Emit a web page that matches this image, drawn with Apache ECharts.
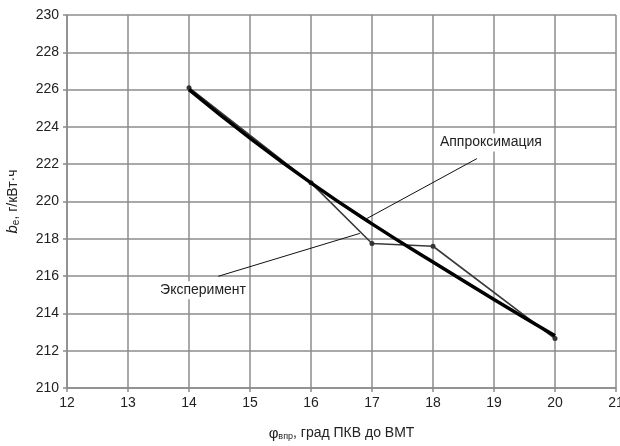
<!DOCTYPE html>
<html>
<head>
<meta charset="utf-8">
<script src="https://cdn.jsdelivr.net/npm/echarts@6/dist/echarts.min.js"></script>
<style>
  html, body { margin: 0; padding: 0; background: #fff; }
  #chart { width: 620px; height: 446px; }
</style>
</head>
<body>
<div id="chart"></div>
<script>
// угол опережения впрыска, град ПКВ
const xExp = [14, 16, 17, 18, 20];
const yExp = [226.1, 221.0, 217.75, 217.6, 212.65];
const xApprox = [14, 15, 16, 17, 18, 19, 20];
const yApprox = [226.0, 223.4, 221.0, 218.8, 216.75, 214.75, 212.8];
// подписи и выноски (координаты в единицах осей)
const labelApprox = 'Аппроксимация';
const labelExp = 'Эксперимент';
const ptrApprox = [[18.72, 222.3], [16.89, 219.04]];
const ptrExp = [[14.48, 215.99], [16.80, 218.29]];
const posApprox = [18.95, 223.16];
const posExp = [14.23, 215.24];

const font = '"Liberation Sans", Arial, sans-serif';
const textColor = '#222';
const gridColor = '#8c8c8c';

let chart = echarts.init(document.getElementById('chart'));

let option = {
  animation: false,
  backgroundColor: '#fff',
  grid: { left: 67, right: 4, top: 15, bottom: 58, outerBoundsMode: 'none', containLabel: false },
  xAxis: {
    type: 'value',
    min: 12, max: 21, interval: 1,
    name: '{phi|φ}{sub|впр}{t|, град ПКВ до ВМТ}',
    nameLocation: 'middle',
    nameGap: 38,
    nameTextStyle: {
      rich: {
        phi: { fontFamily: font, fontSize: 15, color: textColor },
        sub: { fontFamily: font, fontSize: 9, color: textColor, verticalAlign: 'bottom', padding: [6, 0, 0, 0] },
        t: { fontFamily: font, fontSize: 14, color: textColor }
      }
    },
    axisLine: { show: true, lineStyle: { color: gridColor, width: 1.5 } },
    axisTick: { show: true, length: 4, lineStyle: { color: gridColor, width: 1.5 } },
    axisLabel: { fontFamily: font, fontSize: 14, color: textColor, margin: 8 },
    splitLine: { show: true, lineStyle: { color: gridColor, width: 1.5 } }
  },
  yAxis: {
    type: 'value',
    min: 210, max: 230, interval: 2,
    name: '{b|b}{e|e}{t|, г/кВт·ч}',
    nameLocation: 'middle',
    nameGap: 46,
    nameTextStyle: {
      rich: {
        b: { fontFamily: font, fontSize: 15, fontStyle: 'italic', color: textColor },
        e: { fontFamily: font, fontSize: 10, color: textColor, verticalAlign: 'bottom', padding: [6, 0, 0, 0] },
        t: { fontFamily: font, fontSize: 14, color: textColor }
      }
    },
    axisLine: { show: true, lineStyle: { color: gridColor, width: 1.5 } },
    axisTick: { show: true, length: 4, lineStyle: { color: gridColor, width: 1.5 } },
    axisLabel: { fontFamily: font, fontSize: 14, color: textColor, margin: 8 },
    splitLine: { show: true, lineStyle: { color: gridColor, width: 1.5 } }
  },
  series: [
    {
      name: labelExp,
      type: 'line',
      data: xExp.map((x, i) => [x, yExp[i]]),
      symbol: 'circle',
      symbolSize: 5,
      itemStyle: { color: '#333' },
      lineStyle: { color: '#3a3a3a', width: 1.6 },
      z: 3,
      markLine: {
        silent: true,
        symbol: 'none',
        lineStyle: { color: '#111', width: 1, type: 'solid' },
        label: { show: false },
        data: [
          [{ coord: ptrExp[0] }, { coord: ptrExp[1] }],
          [{ coord: ptrApprox[0] }, { coord: ptrApprox[1] }]
        ]
      },
      markPoint: {
        silent: true,
        symbol: 'rect',
        symbolSize: 0,
        label: {
          show: true,
          position: 'inside',
          fontFamily: font,
          fontSize: 14,
          color: textColor,
          backgroundColor: '#fff',
          padding: [2, 3]
        },
        data: [
          { coord: posApprox, label: { formatter: labelApprox } },
          { coord: posExp, label: { formatter: labelExp } }
        ]
      }
    },
    {
      name: labelApprox,
      type: 'line',
      data: xApprox.map((x, i) => [x, yApprox[i]]),
      smooth: true,
      symbol: 'none',
      lineStyle: { color: '#000', width: 3.5 },
      z: 4
    }
  ]
};

chart.setOption(option);
</script>
</body>
</html>
